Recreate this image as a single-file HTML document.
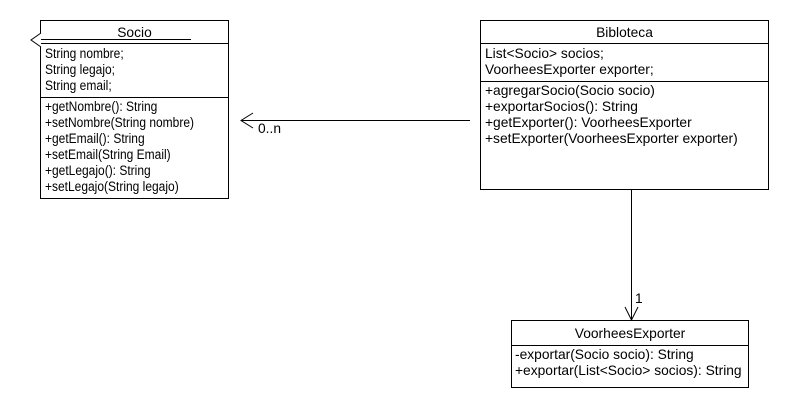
<!DOCTYPE html>
<html><head><meta charset="utf-8"><style>
html,body{margin:0;padding:0;background:#fff;}
svg{display:block;}
text{font-family:"Liberation Sans",Arial,sans-serif;font-size:13.8px;fill:#000;}
</style></head><body>
<svg width="790" height="410" viewBox="0 0 790 410" xmlns="http://www.w3.org/2000/svg">
<rect width="790" height="410" fill="#fff"/>
<g stroke="#000" stroke-width="1" fill="none">
<rect x="40.5" y="20.5" width="188" height="178"/>
<line x1="40.5" y1="43.5" x2="228.5" y2="43.5"/>
<line x1="40.5" y1="97.5" x2="228.5" y2="97.5"/>
<line x1="40.5" y1="39.5" x2="191" y2="39.5"/>
<polyline points="41,33 31,40 41,47" fill="#fff"/>
<rect x="480.5" y="20.5" width="288" height="169"/>
<line x1="480.5" y1="43.5" x2="768.5" y2="43.5"/>
<line x1="480.5" y1="81.5" x2="768.5" y2="81.5"/>
<rect x="511.5" y="320.5" width="237" height="67"/>
<line x1="511.5" y1="345.5" x2="748.5" y2="345.5"/>
<line x1="241" y1="120.5" x2="470" y2="120.5"/>
<polyline points="253,113 241,120.5 253,128"/>
<line x1="631.5" y1="190" x2="631.5" y2="320"/>
<polyline points="625,307 631.5,320 638,307"/>
</g>
<g transform="translate(45,0) scale(0.87,1) translate(-45,0)">
<text x="45" y="58">String nombre;</text>
<text x="45" y="74">String legajo;</text>
<text x="45" y="90">String email;</text>
<text x="45" y="111">+getNombre(): String</text>
<text x="45" y="127">+setNombre(String nombre)</text>
<text x="45" y="143">+getEmail(): String</text>
<text x="45" y="159">+setEmail(String Email)</text>
<text x="45" y="175">+getLegajo(): String</text>
<text x="45" y="191">+setLegajo(String legajo)</text>
</g>
<text x="258" y="133">0..n</text>
<text x="134.5" y="37" text-anchor="middle">Socio</text>
<text x="624.5" y="37" text-anchor="middle">Bibloteca</text>
<text x="485" y="58">List&lt;Socio&gt; socios;</text>
<text x="485" y="74">VoorheesExporter exporter;</text>
<text x="485" y="95">+agregarSocio(Socio socio)</text>
<text x="485" y="111">+exportarSocios(): String</text>
<text x="485" y="127">+getExporter(): VoorheesExporter</text>
<text x="485" y="143">+setExporter(VoorheesExporter exporter)</text>
<text x="635" y="303">1</text>
<text x="630" y="338" text-anchor="middle">VoorheesExporter</text>
<text x="515" y="359">-exportar(Socio socio): String</text>
<text x="515" y="375">+exportar(List&lt;Socio&gt; socios): String</text>
</svg>
</body></html>
